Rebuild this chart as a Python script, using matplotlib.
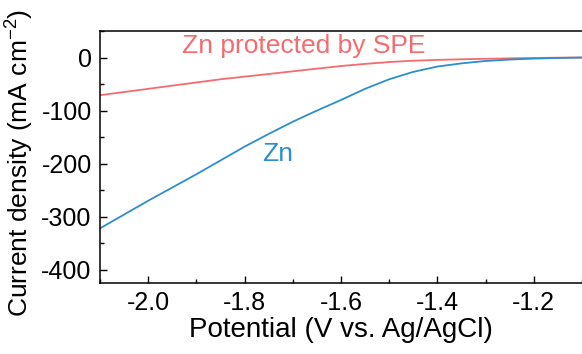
import matplotlib
matplotlib.use("Agg")
import matplotlib.pyplot as plt
from matplotlib.ticker import MultipleLocator, FuncFormatter

plt.rcParams['font.family'] = ['Liberation Sans', 'DejaVu Sans']
plt.rcParams['mathtext.fontset'] = 'custom'
plt.rcParams['mathtext.rm'] = 'Liberation Sans'
plt.rcParams['mathtext.it'] = 'Liberation Sans'

# Potential (V vs. Ag/AgCl)
potential = [-2.10, -2.05, -2.00, -1.95, -1.90, -1.85, -1.80, -1.75, -1.70,
             -1.65, -1.60, -1.55, -1.50, -1.45, -1.40, -1.35, -1.30, -1.25,
             -1.20, -1.15, -1.10]
# Current density (mA cm^-2)
zn_bare = [-322, -296, -270, -245, -220, -194, -168, -144, -121,
           -100, -80, -59, -41, -27, -17, -11, -6.5, -3.8,
           -2, -0.8, 0]
zn_spe = [-71, -65, -59, -53, -47, -41, -36, -31, -26,
          -21, -16, -12, -8.5, -6, -4.5, -3.3, -2.4, -1.5,
          -0.8, -0.3, 0]

red = '#F66B6E'
blue = '#2C8ECF'

fig = plt.figure(figsize=(5.82, 3.54), dpi=100)
ax = fig.add_axes([0.1718, 0.2006, 0.8282, 0.7118])

ax.plot(potential, zn_spe, color=red, lw=1.3)
ax.plot(potential, zn_bare, color=blue, lw=1.3)

ax.set_xlim(-2.1, -1.1)
ax.set_ylim(-425, 50)
ax.xaxis.set_major_locator(MultipleLocator(0.2))
ax.xaxis.set_minor_locator(MultipleLocator(0.1))
ax.yaxis.set_major_locator(MultipleLocator(100))
ax.yaxis.set_minor_locator(MultipleLocator(50))
ax.xaxis.set_major_formatter(FuncFormatter(lambda v, p: f"{v:.1f}"))
ax.yaxis.set_major_formatter(FuncFormatter(lambda v, p: f"{v:.0f}"))

ax.tick_params(which='both', direction='in', top=False, right=False, labelsize=18, width=1, pad=6)
ax.tick_params(which='major', length=5)
ax.tick_params(which='minor', length=3)
ax.spines['right'].set_visible(False)
for s in ('left', 'bottom', 'top'):
    ax.spines[s].set_linewidth(1.1)

ax.set_xlabel('Potential (V vs. Ag/AgCl)', fontsize=20, labelpad=1)
ax.set_ylabel('Current density (mA cm$^{\\mathregular{-2}}$)', fontsize=19)
ax.yaxis.set_label_coords(-0.132, 0.475)

ax.text(-1.9295, 21, 'Zn protected by SPE', color=red, fontsize=19, va='center', ha='left')
ax.text(-1.764, -181, 'Zn', color=blue, fontsize=19, va='center', ha='left')

fig.savefig('out.png', dpi=100)
